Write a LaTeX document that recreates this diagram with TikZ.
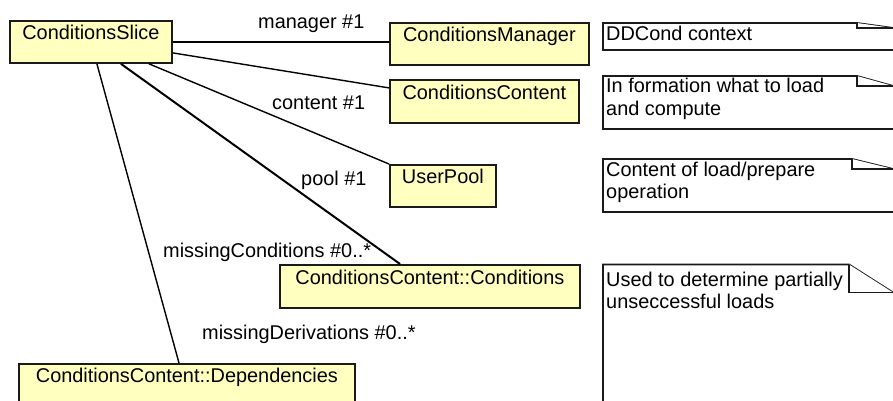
\documentclass[tikz,border=0pt]{standalone}
\usepackage{fontspec}
\setmainfont{Liberation Sans}
\usetikzlibrary{calc}
\definecolor{classfill}{RGB}{255,255,192}
\definecolor{edgegray}{RGB}{26,26,26}
\begin{document}
\begin{tikzpicture}[x=1pt, y=-1pt,
  font=\fontsize{19.9}{22.5}\selectfont,
  cls/.style={draw=edgegray, fill=classfill, line width=1.8pt, anchor=north west,
              inner xsep=0pt, inner ysep=0pt, text height=19pt},
  assoc/.style={draw=black, line width=1.4pt},
  lbl/.style={anchor=base west, inner sep=0pt},
  notebox/.style={draw=edgegray, fill=white, line width=1.8pt, line join=miter},
]
\useasboundingbox (0,0) rectangle (893,401);
\clip (0,0) rectangle (893,401);

% classes
\node[cls, minimum width=162pt, text depth=23pt] (slice) at (9,20) {ConditionsSlice};
\node[cls, minimum width=199pt, text depth=23pt] (mgr) at (389,22) {ConditionsManager};
\node[cls, minimum width=189pt, text depth=23pt, text height=20pt] (content) at (389,79) {ConditionsContent};
\node[cls, minimum width=106pt, text depth=23pt] (pool) at (389,164) {UserPool};
\node[cls, minimum width=300pt, text depth=23pt, text height=20pt] (cond) at (279,264) {ConditionsContent::Conditions};
\node[cls, minimum width=336pt, text depth=40pt] (deps) at (18,363) {ConditionsContent::Dependencies};

% associations
\draw[assoc] (slice.east) -- (slice.east -| mgr.west);
\draw[assoc] ([yshift=-11pt]slice.east) -- ([yshift=13.5pt]content.west);
\draw[assoc] ([xshift=58pt]slice.south) -- (pool.north west);
\draw[assoc, line width=2pt] ([xshift=30pt]slice.south) -- ([xshift=121pt]cond.north west);
\draw[assoc] ([xshift=6pt]slice.south) -- ([xshift=161pt]deps.north west);

% role labels
\node[lbl] (lmgr) at (258,29) {manager \#1};
\node[lbl] (lcontent) at (272,110) {content \#1};
\node[lbl] (lpool) at (301,185) {pool \#1};
\node[lbl] (lcond) at (163,257) {missingConditions \#0..*};
\node[lbl] (ldeps) at (202,339) {missingDerivations \#0..*};

% notes with folded corners
\draw[notebox] (893,50) -- (603,50) -- (603,23) -- (857,23) -- (893,28);
\draw[notebox] (857,23) -- (857,28) -- (893,28);
\draw[notebox] (893,129) -- (603,129) -- (603,76) -- (857,76) -- (893,86);
\draw[notebox] (857,76) -- (857,86) -- (893,86);
\draw[notebox] (893,212) -- (603,212) -- (603,159) -- (852,159) -- (893,169);
\draw[notebox] (852,159) -- (852,169) -- (893,169);
\draw[notebox] (893,420) -- (603,420) -- (603,264.5) -- (849,264.5) -- (893,292.5);
\draw[notebox] (849,264.5) -- (849,292.5) -- (893,292.5);

\node[lbl] (n1a) at (606,40.5) {DDCond context};
\node[lbl] (n2a) at (606,93) {In formation what to load};
\node[lbl] (n2b) at (606,115.5) {and compute};
\node[lbl] (n3a) at (606,176) {Content of load/prepare};
\node[lbl] (n3b) at (606,198) {operation};
\node[lbl] (n4a) at (606,286) {Used to determine partially};
\node[lbl] (n4b) at (606,308) {unseccessful loads};
\end{tikzpicture}
\end{document}
